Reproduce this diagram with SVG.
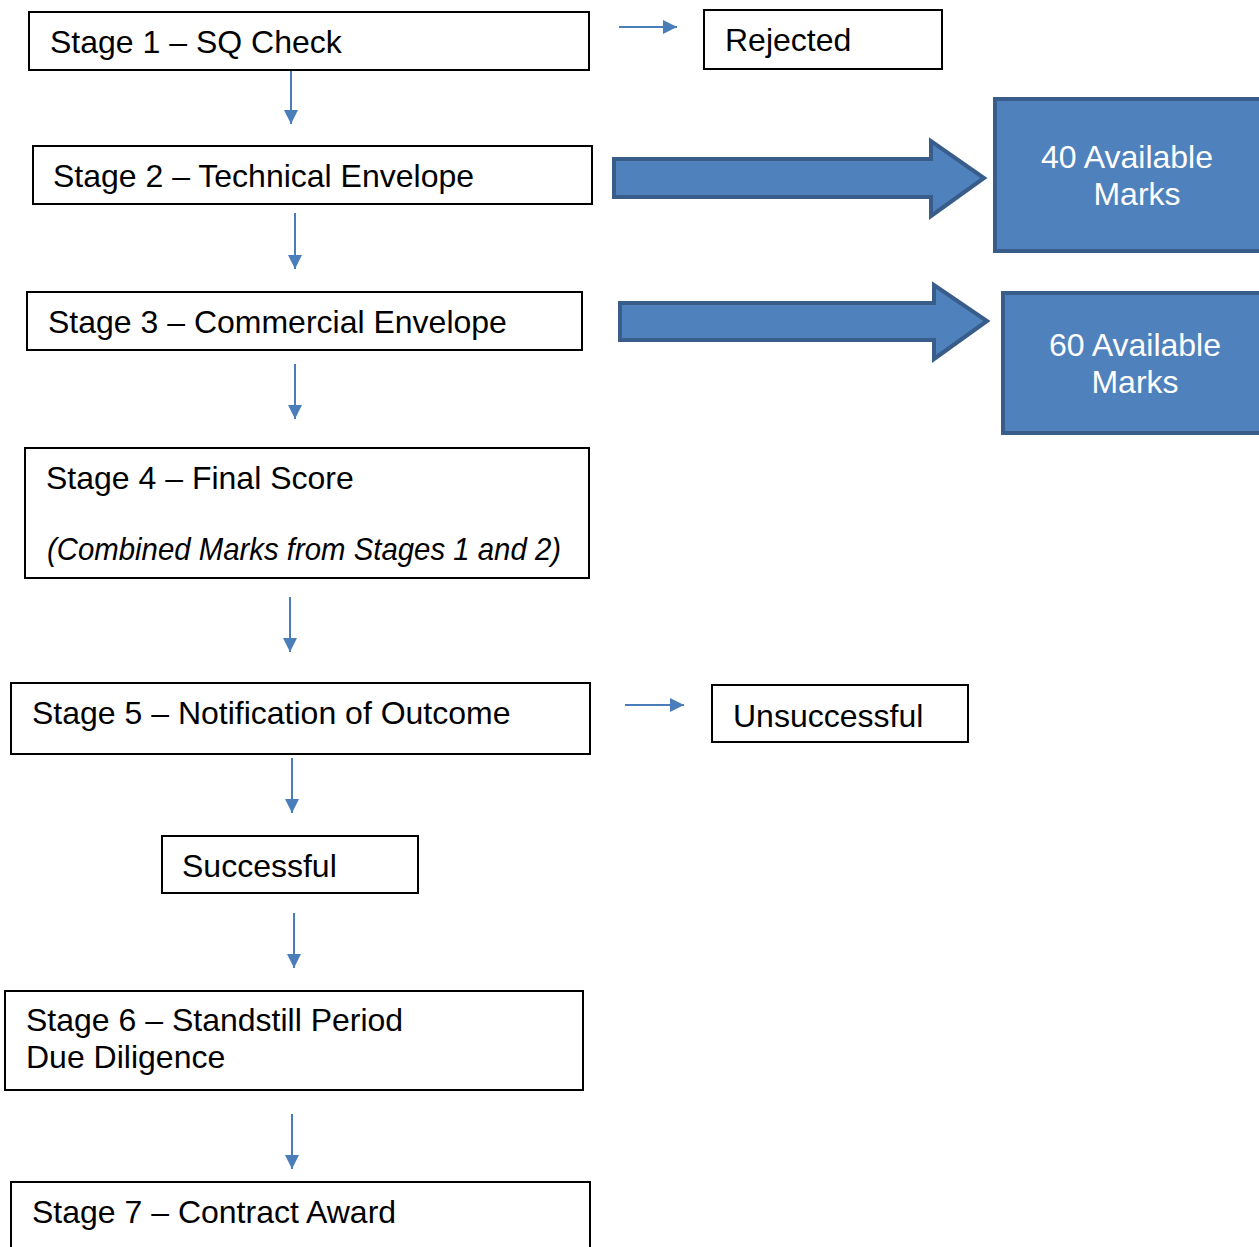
<svg xmlns="http://www.w3.org/2000/svg" width="1259" height="1247" viewBox="0 0 1259 1247">
<style>
.box{fill:#fff;stroke:#000;stroke-width:2}
.t{font-family:"Liberation Sans",Arial,sans-serif;font-size:32px;fill:#000}
.w{font-family:"Liberation Sans",Arial,sans-serif;font-size:32px;fill:#fff;text-anchor:middle}
.blue{fill:#4F81BD;stroke:#385D8A;stroke-width:4}
.c{stroke:#4A7EBB;stroke-width:2;fill:none;marker-end:url(#ah)}
</style>
<defs>
<marker id="ah" viewBox="0 0 10 10" refX="10" refY="5" markerWidth="8" markerHeight="7" markerUnits="strokeWidth" orient="auto">
<path d="M0,0 L10,5 L0,10 z" fill="#4A7EBB"/>
</marker>
</defs>
<rect width="1259" height="1247" fill="#fff"/>
<g id="connectors">
<line class="c" x1="619" y1="27" x2="677" y2="27"/>
<line class="c" x1="291" y1="70" x2="291" y2="124"/>
<line class="c" x1="295" y1="213" x2="295" y2="269"/>
<line class="c" x1="295" y1="364" x2="295" y2="419"/>
<line class="c" x1="290" y1="597" x2="290" y2="652"/>
<line class="c" x1="625" y1="705" x2="684" y2="705"/>
<line class="c" x1="292" y1="758" x2="292" y2="813"/>
<line class="c" x1="294" y1="913" x2="294" y2="968"/>
<line class="c" x1="292" y1="1114" x2="292" y2="1169"/>
<polygon class="blue" points="614,159 931,159 931,141 984,178 931,216 931,197 614,197"/>
<polygon class="blue" points="620,303 934,303 934,285 987,321 934,359 934,340 620,340"/>
</g>
<g id="stage1"><rect class="box" x="29" y="12" width="560" height="58"/><text class="t" x="50" y="53">Stage 1 – SQ Check</text></g>
<g id="rejected"><rect class="box" x="704" y="10" width="238" height="59"/><text class="t" x="725" y="51">Rejected</text></g>
<g id="stage2"><rect class="box" x="33" y="146" width="559" height="58"/><text class="t" x="53" y="187">Stage 2 – Technical Envelope</text></g>
<g id="marks40"><rect class="blue" x="995" y="99" width="266" height="152"/><text class="w" x="1127" y="168">40 Available</text><text class="w" x="1137" y="205">Marks</text></g>
<g id="stage3"><rect class="box" x="27" y="292" width="555" height="58"/><text class="t" x="48" y="333">Stage 3 – Commercial Envelope</text></g>
<g id="marks60"><rect class="blue" x="1003" y="293" width="258" height="140"/><text class="w" x="1135" y="356">60 Available</text><text class="w" x="1135" y="393">Marks</text></g>
<g id="stage4"><rect class="box" x="25" y="448" width="564" height="130"/><text class="t" x="46" y="489">Stage 4 – Final Score</text><text class="t" x="47" y="560" font-style="italic" textLength="514" lengthAdjust="spacingAndGlyphs">(Combined Marks from Stages 1 and 2)</text></g>
<g id="stage5"><rect class="box" x="11" y="683" width="579" height="71"/><text class="t" x="32" y="724">Stage 5 – Notification of Outcome</text></g>
<g id="unsuccessful"><rect class="box" x="712" y="685" width="256" height="57"/><text class="t" x="733" y="727">Unsuccessful</text></g>
<g id="successful"><rect class="box" x="162" y="836" width="256" height="57"/><text class="t" x="182" y="877">Successful</text></g>
<g id="stage6"><rect class="box" x="5" y="991" width="578" height="99"/><text class="t" x="26" y="1031">Stage 6 – Standstill Period</text><text class="t" x="26" y="1068">Due Diligence</text></g>
<g id="stage7"><rect class="box" x="11" y="1182" width="579" height="80"/><text class="t" x="32" y="1223">Stage 7 – Contract Award</text></g>
</svg>
